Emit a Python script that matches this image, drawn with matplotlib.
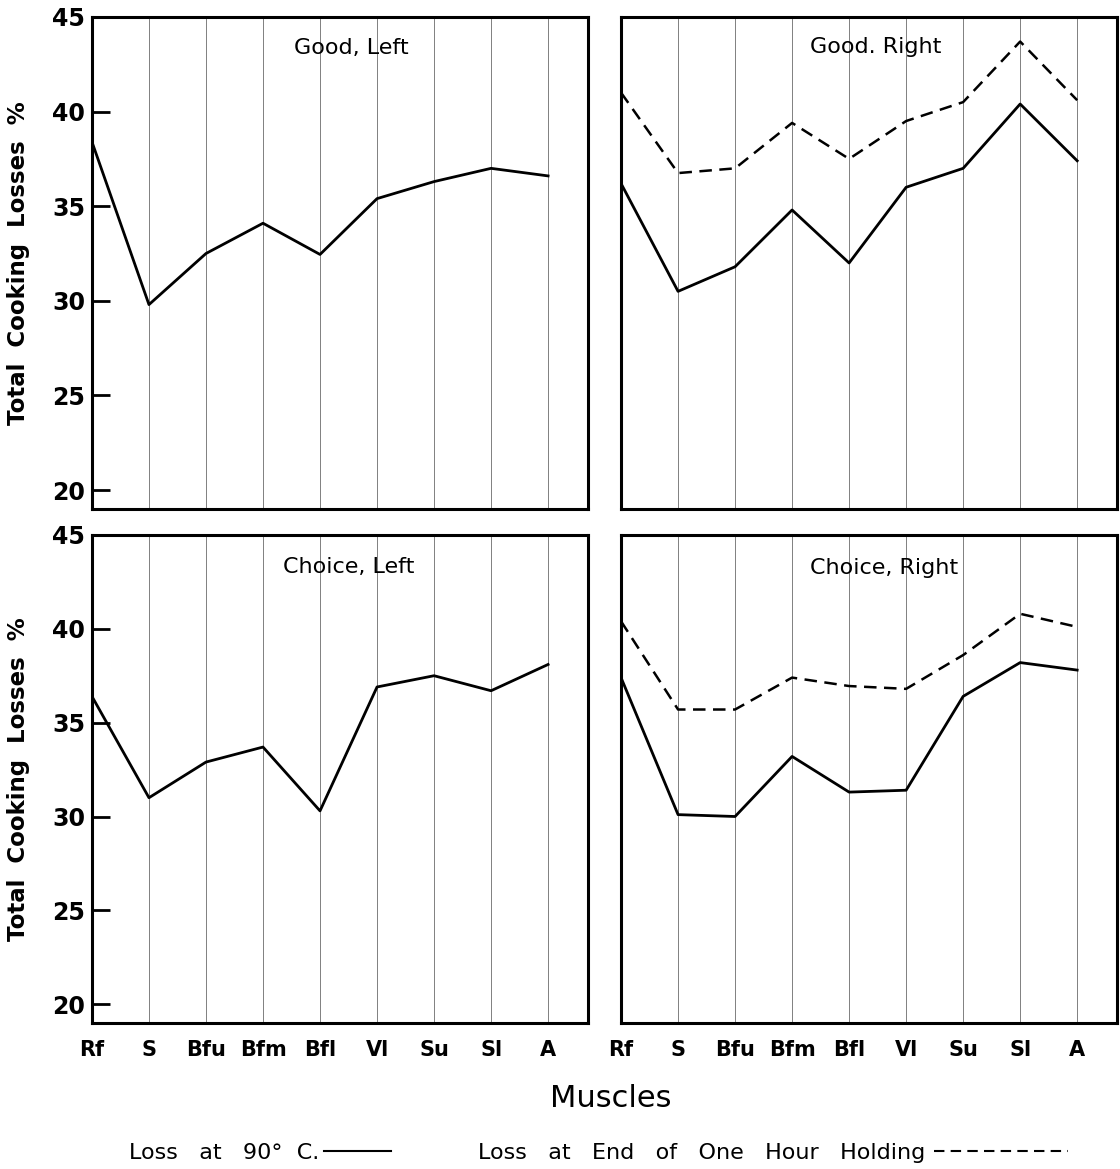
import numpy as np
import matplotlib.pyplot as plt
from matplotlib.lines import Line2D


muscles = ['Rf', 'S', 'Bfu', 'Bfm', 'Bfl', 'Vl', 'Su', 'Sl', 'A']

# total cooking losses %
good_left_90 = [38.4, 29.8, 32.5, 34.1, 32.45, 35.4, 36.3, 37.0, 36.6]
good_right_90 = [36.2, 30.5, 31.8, 34.8, 32.0, 36.0, 37.0, 40.4, 37.4]
good_right_hold = [41.0, 36.75, 37.0, 39.4, 37.5, 39.5, 40.5, 43.7, 40.6]
choice_left_90 = [36.4, 31.0, 32.9, 33.7, 30.3, 36.9, 37.5, 36.7, 38.1]
choice_right_90 = [37.4, 30.1, 30.0, 33.2, 31.3, 31.4, 36.4, 38.2, 37.8]
choice_right_hold = [40.4, 35.7, 35.7, 37.4, 36.95, 36.8, 38.6, 40.8, 40.1]

y_ticks = [20, 25, 30, 35, 40, 45]

x = np.arange(len(muscles))
dash = (0, (5, 3))

fig = plt.figure(figsize=(11.2, 11.69), dpi=100)

ax_gl = fig.add_axes([0.0821, 0.5646, 0.4429, 0.4209])
ax_gr = fig.add_axes([0.5545, 0.5646, 0.4429, 0.4209])
ax_cl = fig.add_axes([0.0821, 0.1249, 0.4429, 0.4175])
ax_cr = fig.add_axes([0.5545, 0.1249, 0.4429, 0.4175])

ax_gl.plot(x, good_left_90, color='black', lw=2)
ax_gr.plot(x, good_right_90, color='black', lw=2)
ax_gr.plot(x, good_right_hold, color='black', lw=1.8, linestyle=dash)
ax_cl.plot(x, choice_left_90, color='black', lw=2)
ax_cr.plot(x, choice_right_90, color='black', lw=2)
ax_cr.plot(x, choice_right_hold, color='black', lw=1.8, linestyle=dash)

titles = [(ax_gl, 'Good, Left', 0.523, 0.936),
          (ax_gr, 'Good. Right', 0.513, 0.939),
          (ax_cl, 'Choice, Left', 0.517, 0.935),
          (ax_cr, 'Choice, Right', 0.531, 0.932)]

for ax, t, tx, ty in titles:
    ax.set_xlim(0, 8.7)
    ax.set_ylim(19, 45)
    ax.set_xticks(x)
    ax.set_xticklabels(muscles, fontsize=15, fontweight='bold')
    ax.tick_params(axis='x', length=0, pad=12)
    ax.xaxis.grid(True, color='0.5', lw=0.7)
    ax.set_axisbelow(True)
    for s in ax.spines.values():
        s.set_linewidth(2.2)
    ax.text(tx, ty, t, transform=ax.transAxes, ha='center', va='center', fontsize=16)

for ax in [ax_gl, ax_gr]:
    ax.tick_params(axis='x', labelbottom=False)

for ax in [ax_gl, ax_cl]:
    ax.set_yticks(y_ticks)
    ax.set_yticklabels([str(v) for v in y_ticks], fontsize=17, fontweight='bold')
    ax.tick_params(axis='y', direction='in', length=13, width=2, pad=5)
    ax.set_ylabel('Total  Cooking  Losses  %', fontsize=16.5, fontweight='bold')
    ax.yaxis.set_label_coords(-0.125, 0.5)

for ax in [ax_gr, ax_cr]:
    ax.set_yticks([])

fig.text(0.5455, 0.0607, 'Muscles', ha='center', va='center', fontsize=22)

h_90 = Line2D([], [], color='black', lw=1.5)
h_hold = Line2D([], [], color='black', lw=1.5, linestyle=dash)
fig.legend([h_90], ['Loss   at   90°  C.'], loc='center', bbox_to_anchor=(0.232, 0.014),
           markerfirst=False, frameon=False, fontsize=16, handlelength=3, handletextpad=0.2)
fig.legend([h_hold], ['Loss   at   End   of   One   Hour   Holding'], loc='center', bbox_to_anchor=(0.69, 0.014),
           markerfirst=False, frameon=False, fontsize=16, handlelength=6, handletextpad=0.4)

plt.savefig('out.png', dpi=100)
